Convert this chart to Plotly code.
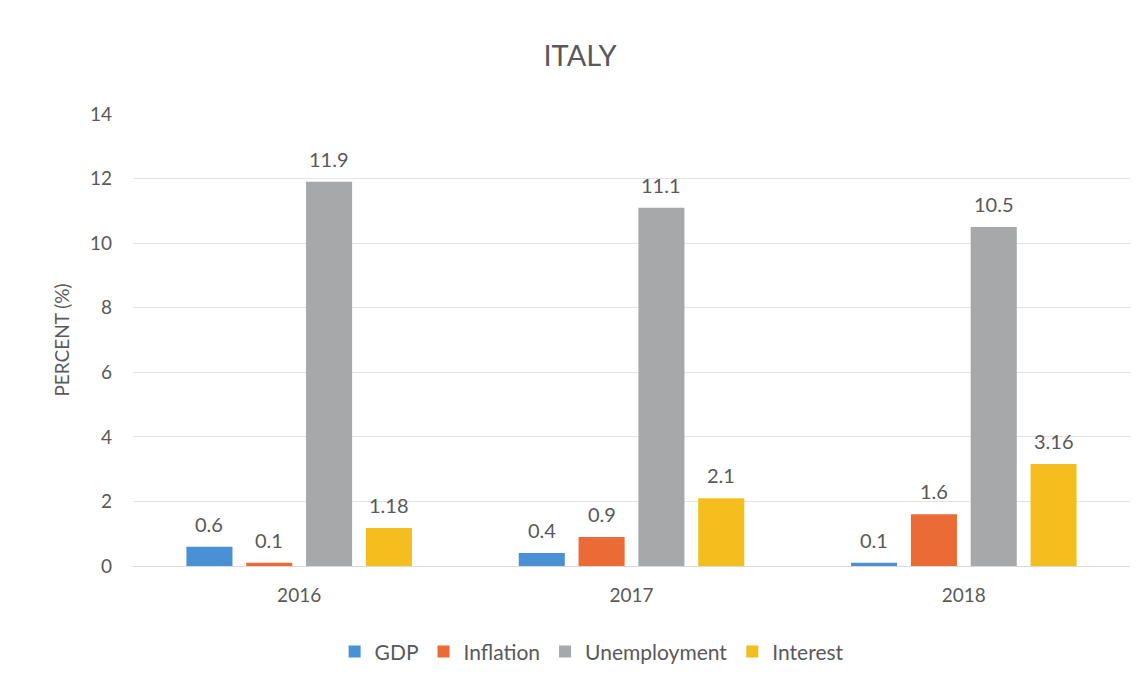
import plotly.graph_objects as go

years = ["2016", "2017", "2018"]
gdp = [0.6, 0.4, 0.1]
inflation = [0.1, 0.9, 1.6]
unemployment = [11.9, 11.1, 10.5]
interest = [1.18, 2.1, 3.16]

series = [
    ("GDP", gdp, "#4A90D4"),
    ("Inflation", inflation, "#EA6B35"),
    ("Unemployment", unemployment, "#A6A8AA"),
    ("Interest", interest, "#F4BE1E"),
]

font_family = "Lato, 'Open Sans', sans-serif"
text_col = "#595959"
bargap = 0.28
n = len(series)
slot = (1 - bargap) / n

fig = go.Figure()
annotations = []
for k, (name, vals, col) in enumerate(series):
    fig.add_trace(go.Bar(
        name=name, x=years, y=vals,
        marker=dict(color=col, line=dict(width=0)),
    ))
    off = (k - (n - 1) / 2) * slot
    for i, v in enumerate(vals):
        annotations.append(dict(
            x=i + off, y=v, xref="x", yref="y", text=str(v), showarrow=False,
            yanchor="bottom", yshift=9,
            font=dict(size=20, color=text_col, family=font_family),
        ))

fig.update_layout(
    width=1144, height=688,
    paper_bgcolor="white", plot_bgcolor="white",
    margin=dict(l=125, r=22, t=106, b=130),
    barmode="group", bargap=bargap, bargroupgap=0.23,
    annotations=annotations,
    title=dict(text="ITALY", x=0.5, xanchor="center", y=0.93, yanchor="middle",
               font=dict(size=29, color=text_col, family=font_family)),
    font=dict(family=font_family, color=text_col),
    legend=dict(orientation="h", x=0.46, xanchor="center", y=-0.19, yanchor="middle",
                font=dict(size=21, color=text_col), itemwidth=30, traceorder="normal"),
    xaxis=dict(showgrid=False, showline=False, ticks="", tickfont=dict(size=19, color=text_col),
               ticklabelstandoff=16),
    yaxis=dict(range=[0, 14], dtick=2, showgrid=True, gridcolor="#E3E3E3", gridwidth=1,
               zeroline=True, zerolinecolor="#D9D9D9", zerolinewidth=1,
               tickfont=dict(size=19, color=text_col), ticklabelstandoff=20,
               title=dict(text="PERCENT (%)", font=dict(size=19, color=text_col), standoff=15)),
)

fig.write_html("out.html")
